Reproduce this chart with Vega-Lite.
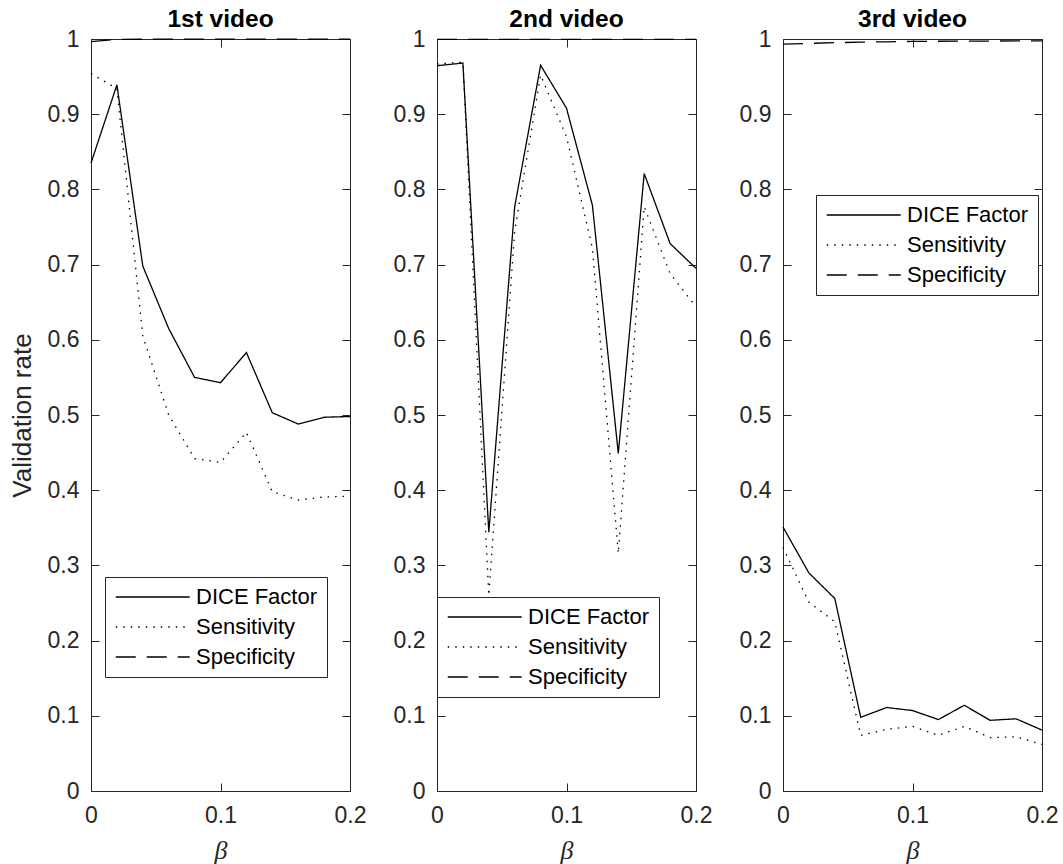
{
  "$schema": "https://vega.github.io/schema/vega-lite/v6.json",
  "background": "white",
  "padding": {"left": 9, "top": 6, "right": 5, "bottom": 5},
  "datasets": {
    "d": [
      {"panel": "1st video", "metric": "DICE Factor", "beta": 0, "value": 0.835},
      {"panel": "1st video", "metric": "DICE Factor", "beta": 0.02, "value": 0.939},
      {"panel": "1st video", "metric": "DICE Factor", "beta": 0.04, "value": 0.698},
      {"panel": "1st video", "metric": "DICE Factor", "beta": 0.06, "value": 0.615},
      {"panel": "1st video", "metric": "DICE Factor", "beta": 0.08, "value": 0.55},
      {"panel": "1st video", "metric": "DICE Factor", "beta": 0.1, "value": 0.543},
      {"panel": "1st video", "metric": "DICE Factor", "beta": 0.12, "value": 0.583},
      {"panel": "1st video", "metric": "DICE Factor", "beta": 0.14, "value": 0.503},
      {"panel": "1st video", "metric": "DICE Factor", "beta": 0.16, "value": 0.488},
      {"panel": "1st video", "metric": "DICE Factor", "beta": 0.18, "value": 0.497},
      {"panel": "1st video", "metric": "DICE Factor", "beta": 0.2, "value": 0.498},
      {"panel": "1st video", "metric": "Sensitivity", "beta": 0, "value": 0.954},
      {"panel": "1st video", "metric": "Sensitivity", "beta": 0.02, "value": 0.934},
      {"panel": "1st video", "metric": "Sensitivity", "beta": 0.04, "value": 0.605},
      {"panel": "1st video", "metric": "Sensitivity", "beta": 0.06, "value": 0.5},
      {"panel": "1st video", "metric": "Sensitivity", "beta": 0.08, "value": 0.442},
      {"panel": "1st video", "metric": "Sensitivity", "beta": 0.1, "value": 0.437},
      {"panel": "1st video", "metric": "Sensitivity", "beta": 0.12, "value": 0.477},
      {"panel": "1st video", "metric": "Sensitivity", "beta": 0.14, "value": 0.398},
      {"panel": "1st video", "metric": "Sensitivity", "beta": 0.16, "value": 0.387},
      {"panel": "1st video", "metric": "Sensitivity", "beta": 0.18, "value": 0.391},
      {"panel": "1st video", "metric": "Sensitivity", "beta": 0.2, "value": 0.392},
      {"panel": "1st video", "metric": "Specificity", "beta": 0, "value": 0.9965},
      {"panel": "1st video", "metric": "Specificity", "beta": 0.02, "value": 0.9995},
      {"panel": "1st video", "metric": "Specificity", "beta": 0.04, "value": 0.9997},
      {"panel": "1st video", "metric": "Specificity", "beta": 0.06, "value": 0.9998},
      {"panel": "1st video", "metric": "Specificity", "beta": 0.08, "value": 0.9998},
      {"panel": "1st video", "metric": "Specificity", "beta": 0.1, "value": 0.9998},
      {"panel": "1st video", "metric": "Specificity", "beta": 0.12, "value": 0.9998},
      {"panel": "1st video", "metric": "Specificity", "beta": 0.14, "value": 0.9998},
      {"panel": "1st video", "metric": "Specificity", "beta": 0.16, "value": 0.9998},
      {"panel": "1st video", "metric": "Specificity", "beta": 0.18, "value": 0.9998},
      {"panel": "1st video", "metric": "Specificity", "beta": 0.2, "value": 0.9998},
      {"panel": "2nd video", "metric": "DICE Factor", "beta": 0, "value": 0.9645},
      {"panel": "2nd video", "metric": "DICE Factor", "beta": 0.02, "value": 0.968},
      {"panel": "2nd video", "metric": "DICE Factor", "beta": 0.04, "value": 0.344},
      {"panel": "2nd video", "metric": "DICE Factor", "beta": 0.06, "value": 0.777},
      {"panel": "2nd video", "metric": "DICE Factor", "beta": 0.08, "value": 0.965},
      {"panel": "2nd video", "metric": "DICE Factor", "beta": 0.1, "value": 0.908},
      {"panel": "2nd video", "metric": "DICE Factor", "beta": 0.12, "value": 0.779},
      {"panel": "2nd video", "metric": "DICE Factor", "beta": 0.14, "value": 0.449},
      {"panel": "2nd video", "metric": "DICE Factor", "beta": 0.16, "value": 0.821},
      {"panel": "2nd video", "metric": "DICE Factor", "beta": 0.18, "value": 0.728},
      {"panel": "2nd video", "metric": "DICE Factor", "beta": 0.2, "value": 0.695},
      {"panel": "2nd video", "metric": "Sensitivity", "beta": 0, "value": 0.967},
      {"panel": "2nd video", "metric": "Sensitivity", "beta": 0.02, "value": 0.969},
      {"panel": "2nd video", "metric": "Sensitivity", "beta": 0.04, "value": 0.26},
      {"panel": "2nd video", "metric": "Sensitivity", "beta": 0.06, "value": 0.745},
      {"panel": "2nd video", "metric": "Sensitivity", "beta": 0.08, "value": 0.952},
      {"panel": "2nd video", "metric": "Sensitivity", "beta": 0.1, "value": 0.87},
      {"panel": "2nd video", "metric": "Sensitivity", "beta": 0.12, "value": 0.722},
      {"panel": "2nd video", "metric": "Sensitivity", "beta": 0.14, "value": 0.316},
      {"panel": "2nd video", "metric": "Sensitivity", "beta": 0.16, "value": 0.777},
      {"panel": "2nd video", "metric": "Sensitivity", "beta": 0.18, "value": 0.688},
      {"panel": "2nd video", "metric": "Sensitivity", "beta": 0.2, "value": 0.644},
      {"panel": "2nd video", "metric": "Specificity", "beta": 0, "value": 0.9995},
      {"panel": "2nd video", "metric": "Specificity", "beta": 0.02, "value": 0.9995},
      {"panel": "2nd video", "metric": "Specificity", "beta": 0.04, "value": 0.9995},
      {"panel": "2nd video", "metric": "Specificity", "beta": 0.06, "value": 0.9995},
      {"panel": "2nd video", "metric": "Specificity", "beta": 0.08, "value": 0.9995},
      {"panel": "2nd video", "metric": "Specificity", "beta": 0.1, "value": 0.9995},
      {"panel": "2nd video", "metric": "Specificity", "beta": 0.12, "value": 0.9995},
      {"panel": "2nd video", "metric": "Specificity", "beta": 0.14, "value": 0.9995},
      {"panel": "2nd video", "metric": "Specificity", "beta": 0.16, "value": 0.9995},
      {"panel": "2nd video", "metric": "Specificity", "beta": 0.18, "value": 0.9995},
      {"panel": "2nd video", "metric": "Specificity", "beta": 0.2, "value": 0.9995},
      {"panel": "3rd video", "metric": "DICE Factor", "beta": 0, "value": 0.351},
      {"panel": "3rd video", "metric": "DICE Factor", "beta": 0.02, "value": 0.29},
      {"panel": "3rd video", "metric": "DICE Factor", "beta": 0.04, "value": 0.256},
      {"panel": "3rd video", "metric": "DICE Factor", "beta": 0.06, "value": 0.098},
      {"panel": "3rd video", "metric": "DICE Factor", "beta": 0.08, "value": 0.111},
      {"panel": "3rd video", "metric": "DICE Factor", "beta": 0.1, "value": 0.107},
      {"panel": "3rd video", "metric": "DICE Factor", "beta": 0.12, "value": 0.095},
      {"panel": "3rd video", "metric": "DICE Factor", "beta": 0.14, "value": 0.114},
      {"panel": "3rd video", "metric": "DICE Factor", "beta": 0.16, "value": 0.094},
      {"panel": "3rd video", "metric": "DICE Factor", "beta": 0.18, "value": 0.096},
      {"panel": "3rd video", "metric": "DICE Factor", "beta": 0.2, "value": 0.081},
      {"panel": "3rd video", "metric": "Sensitivity", "beta": 0, "value": 0.324},
      {"panel": "3rd video", "metric": "Sensitivity", "beta": 0.02, "value": 0.251},
      {"panel": "3rd video", "metric": "Sensitivity", "beta": 0.04, "value": 0.225},
      {"panel": "3rd video", "metric": "Sensitivity", "beta": 0.06, "value": 0.074},
      {"panel": "3rd video", "metric": "Sensitivity", "beta": 0.08, "value": 0.082},
      {"panel": "3rd video", "metric": "Sensitivity", "beta": 0.1, "value": 0.086},
      {"panel": "3rd video", "metric": "Sensitivity", "beta": 0.12, "value": 0.074},
      {"panel": "3rd video", "metric": "Sensitivity", "beta": 0.14, "value": 0.086},
      {"panel": "3rd video", "metric": "Sensitivity", "beta": 0.16, "value": 0.071},
      {"panel": "3rd video", "metric": "Sensitivity", "beta": 0.18, "value": 0.072},
      {"panel": "3rd video", "metric": "Sensitivity", "beta": 0.2, "value": 0.062},
      {"panel": "3rd video", "metric": "Specificity", "beta": 0, "value": 0.9932},
      {"panel": "3rd video", "metric": "Specificity", "beta": 0.02, "value": 0.9942},
      {"panel": "3rd video", "metric": "Specificity", "beta": 0.04, "value": 0.9951},
      {"panel": "3rd video", "metric": "Specificity", "beta": 0.06, "value": 0.9958},
      {"panel": "3rd video", "metric": "Specificity", "beta": 0.08, "value": 0.9963},
      {"panel": "3rd video", "metric": "Specificity", "beta": 0.1, "value": 0.9968},
      {"panel": "3rd video", "metric": "Specificity", "beta": 0.12, "value": 0.997},
      {"panel": "3rd video", "metric": "Specificity", "beta": 0.14, "value": 0.9972},
      {"panel": "3rd video", "metric": "Specificity", "beta": 0.16, "value": 0.9973},
      {"panel": "3rd video", "metric": "Specificity", "beta": 0.18, "value": 0.9974},
      {"panel": "3rd video", "metric": "Specificity", "beta": 0.2, "value": 0.9975}
    ]
  },
  "data": {"name": "d"},
  "config": {
    "view": {"stroke": null},
    "font": "Liberation Sans",
    "axis": {
      "grid": false,
      "labelFlush": false,
      "domainColor": "#262626",
      "domainWidth": 1,
      "tickColor": "#262626",
      "tickWidth": 1,
      "tickSize": -8,
      "labelColor": "#262626",
      "labelFont": "Liberation Sans",
      "labelFontSize": 23,
      "titleColor": "#262626",
      "titleFontWeight": "normal",
      "titleFontSize": 26
    },
    "title": {"font": "Liberation Sans", "fontSize": 24.5, "fontWeight": "bold", "color": "black", "offset": -4},
    "legend": {
      "orient": "none",
      "title": null,
      "symbolType": "M-1,0H7",
      "symbolStrokeColor": "black",
      "symbolStrokeWidth": 1.3,
      "symbolSize": 342,
      "labelFont": "Liberation Sans",
      "labelFontSize": 22,
      "labelColor": "black",
      "labelOffset": 60,
      "strokeColor": "#262626",
      "fillColor": "white",
      "padding": 9,
      "rowPadding": 8
    }
  },
  "bounds": "flush",
  "spacing": 87,
  "resolve": {"scale": {"strokeDash": "independent", "x": "independent", "y": "independent"}, "legend": {"strokeDash": "independent"}},
  "hconcat": [
    {
      "width": 259, "height": 752,
      "title": "1st video",
      "transform": [{"filter": "datum.panel === '1st video'"}],
      "layer": [
        {
          "mark": {"type": "line", "stroke": "black", "strokeWidth": 1.3},
          "encoding": {
            "x": {"field": "beta", "type": "quantitative", "scale": {"domain": [0, 0.2], "nice": false},
                  "axis": {"orient": "bottom", "values": [0, 0.1, 0.2], "format": "~g", "labelPadding": 21, "title": "β", "titleFont": "Liberation Serif", "titleFontStyle": "italic", "titleFontSize": 26, "titlePadding": 10}},
            "y": {"field": "value", "type": "quantitative", "scale": {"domain": [0, 1], "nice": false},
                  "axis": {"orient": "left", "values": [0, 0.1, 0.2, 0.3, 0.4, 0.5, 0.6, 0.7, 0.8, 0.9, 1], "format": "~g", "labelPadding": 20, "title": "Validation rate", "titlePadding": 12}},
            "strokeDash": {"field": "metric", "type": "nominal",
                  "scale": {"domain": ["DICE Factor", "Sensitivity", "Specificity"], "range": [[1, 0], [1.5, 6], [20, 11]]},
                  "legend": {"legendX": 14, "legendY": 538}}
          }
        },
        {
          "mark": {"type": "point", "opacity": 0},
          "encoding": {
            "x": {"field": "beta", "type": "quantitative", "axis": {"orient": "top", "values": [0, 0.1, 0.2], "labels": false, "title": null}},
            "y": {"field": "value", "type": "quantitative", "axis": {"orient": "right", "values": [0, 0.1, 0.2, 0.3, 0.4, 0.5, 0.6, 0.7, 0.8, 0.9, 1], "labels": false, "title": null}}
          }
        }
      ]
    },
    {
      "width": 259, "height": 752,
      "title": "2nd video",
      "transform": [{"filter": "datum.panel === '2nd video'"}],
      "layer": [
        {
          "mark": {"type": "line", "stroke": "black", "strokeWidth": 1.3},
          "encoding": {
            "x": {"field": "beta", "type": "quantitative", "scale": {"domain": [0, 0.2], "nice": false},
                  "axis": {"orient": "bottom", "values": [0, 0.1, 0.2], "format": "~g", "labelPadding": 21, "title": "β", "titleFont": "Liberation Serif", "titleFontStyle": "italic", "titleFontSize": 26, "titlePadding": 10}},
            "y": {"field": "value", "type": "quantitative", "scale": {"domain": [0, 1], "nice": false},
                  "axis": {"orient": "left", "values": [0, 0.1, 0.2, 0.3, 0.4, 0.5, 0.6, 0.7, 0.8, 0.9, 1], "format": "~g", "labelPadding": 20, "title": null}},
            "strokeDash": {"field": "metric", "type": "nominal",
                  "scale": {"domain": ["DICE Factor", "Sensitivity", "Specificity"], "range": [[1, 0], [1.5, 6], [20, 11]]},
                  "legend": {"legendX": 0, "legendY": 558}}
          }
        },
        {
          "mark": {"type": "point", "opacity": 0},
          "encoding": {
            "x": {"field": "beta", "type": "quantitative", "axis": {"orient": "top", "values": [0, 0.1, 0.2], "labels": false, "title": null}},
            "y": {"field": "value", "type": "quantitative", "axis": {"orient": "right", "values": [0, 0.1, 0.2, 0.3, 0.4, 0.5, 0.6, 0.7, 0.8, 0.9, 1], "labels": false, "title": null}}
          }
        }
      ]
    },
    {
      "width": 259, "height": 752,
      "title": "3rd video",
      "transform": [{"filter": "datum.panel === '3rd video'"}],
      "layer": [
        {
          "mark": {"type": "line", "stroke": "black", "strokeWidth": 1.3},
          "encoding": {
            "x": {"field": "beta", "type": "quantitative", "scale": {"domain": [0, 0.2], "nice": false},
                  "axis": {"orient": "bottom", "values": [0, 0.1, 0.2], "format": "~g", "labelPadding": 21, "title": "β", "titleFont": "Liberation Serif", "titleFontStyle": "italic", "titleFontSize": 26, "titlePadding": 10}},
            "y": {"field": "value", "type": "quantitative", "scale": {"domain": [0, 1], "nice": false},
                  "axis": {"orient": "left", "values": [0, 0.1, 0.2, 0.3, 0.4, 0.5, 0.6, 0.7, 0.8, 0.9, 1], "format": "~g", "labelPadding": 20, "title": null}},
            "strokeDash": {"field": "metric", "type": "nominal",
                  "scale": {"domain": ["DICE Factor", "Sensitivity", "Specificity"], "range": [[1, 0], [1.5, 6], [20, 11]]},
                  "legend": {"legendX": 33, "legendY": 156}}
          }
        },
        {
          "mark": {"type": "point", "opacity": 0},
          "encoding": {
            "x": {"field": "beta", "type": "quantitative", "axis": {"orient": "top", "values": [0, 0.1, 0.2], "labels": false, "title": null}},
            "y": {"field": "value", "type": "quantitative", "axis": {"orient": "right", "values": [0, 0.1, 0.2, 0.3, 0.4, 0.5, 0.6, 0.7, 0.8, 0.9, 1], "labels": false, "title": null}}
          }
        }
      ]
    }
  ]
}
